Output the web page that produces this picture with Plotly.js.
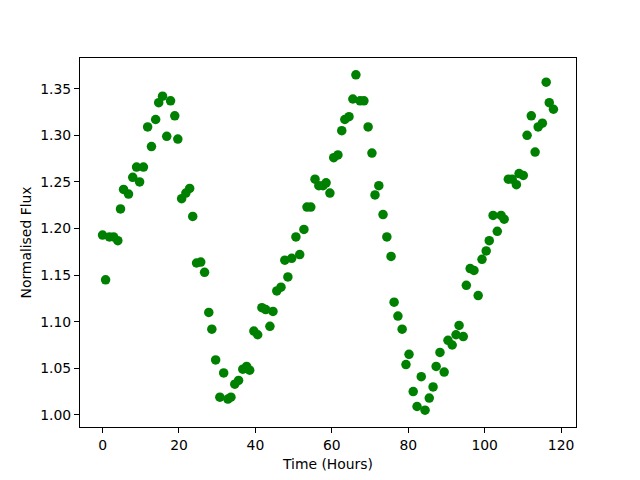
<!DOCTYPE html>
<html>
<head>
<meta charset="utf-8">
<script src="https://cdn.plot.ly/plotly-3.0.1.min.js"></script>
<style>html,body{margin:0;padding:0;background:#fff;}#chart{width:640px;height:480px;}</style>
</head>
<body>
<div id="chart"></div>
<script>
const timeHours = [0,0.8,1.8,2.9,4,4.7,5.5,6.8,7.9,8.9,9.7,10.7,11.8,12.8,13.9,14.7,15.7,16.8,17.8,18.9,19.7,20.7,21.8,22.8,23.6,24.6,25.7,26.7,27.8,28.6,29.6,30.7,31.7,32.8,33.6,34.6,35.6,36.7,37.7,38.5,39.6,40.6,41.7,42.7,43.8,44.6,45.6,46.7,47.7,48.5,49.5,50.6,51.6,52.7,53.5,54.5,55.6,56.6,57.7,58.5,59.5,60.5,61.6,62.6,63.4,64.5,65.5,66.3,67.4,68.4,69.5,70.5,71.3,72.3,73.4,74.4,75.5,76.3,77.3,78.4,79.4,80.2,81.3,82.3,83.4,84.4,85.5,86.5,87.3,88.3,89.4,90.4,91.5,92.5,93.3,94.4,95.2,96.2,97.2,98.3,99.3,100.4,101.2,102.2,103.3,104.3,105.1,106.2,107.2,108.3,109.0,110.1,111.1,112.2,113.2,114.0,115.1,116.1,116.9,118.0];
const normFlux = [1.193,1.145,1.191,1.191,1.187,1.221,1.242,1.237,1.255,1.266,1.250,1.266,1.309,1.288,1.317,1.335,1.342,1.299,1.337,1.321,1.296,1.232,1.238,1.243,1.213,1.163,1.164,1.153,1.110,1.092,1.059,1.019,1.045,1.017,1.019,1.033,1.037,1.049,1.052,1.048,1.090,1.086,1.115,1.113,1.095,1.111,1.133,1.137,1.166,1.148,1.168,1.191,1.172,1.199,1.223,1.223,1.253,1.246,1.246,1.249,1.238,1.276,1.279,1.305,1.317,1.320,1.339,1.365,1.337,1.337,1.309,1.281,1.236,1.246,1.215,1.191,1.170,1.121,1.106,1.092,1.054,1.065,1.025,1.009,1.041,1.005,1.018,1.030,1.052,1.067,1.046,1.080,1.075,1.086,1.096,1.084,1.139,1.157,1.155,1.128,1.167,1.176,1.187,1.214,1.197,1.214,1.210,1.253,1.253,1.247,1.259,1.257,1.300,1.321,1.282,1.309,1.313,1.357,1.335,1.328];
const xTicks = [0,20,40,60,80,100,120];
const yTicks = [1.00,1.05,1.10,1.15,1.20,1.25,1.30,1.35];

const font = {family: 'DejaVu Sans', size: 13.9, color: '#000'};
const trace = {
  x: timeHours, y: normFlux, type: 'scatter', mode: 'markers',
  marker: {color: 'green', size: 9.5, line: {width: 0}},
  hoverinfo: 'skip'
};
const axisCommon = {
  showline: true, linecolor: '#000', linewidth: 1, mirror: true,
  ticks: 'outside', ticklen: 5, tickwidth: 1, tickcolor: '#000',
  showgrid: false, zeroline: false, tickfont: font
};
const layout = {
  width: 640, height: 480,
  margin: {l: 80, r: 64, t: 58, b: 53},
  paper_bgcolor: '#fff', plot_bgcolor: '#fff',
  font: font, showlegend: false,
  xaxis: Object.assign({}, axisCommon, {
    range: [-5.9, 123.9], tickvals: xTicks, ticktext: xTicks.map(String),
    title: {text: 'Time (Hours)', font: font, standoff: 7}
  }),
  yaxis: Object.assign({}, axisCommon, {
    range: [0.987, 1.383], tickvals: yTicks, ticktext: yTicks.map(v => v.toFixed(2)),
    title: {text: 'Normalised Flux', font: font, standoff: 5}
  })
};
Plotly.newPlot('chart', [trace], layout, {displayModeBar: false, staticPlot: true});
</script>
</body>
</html>
